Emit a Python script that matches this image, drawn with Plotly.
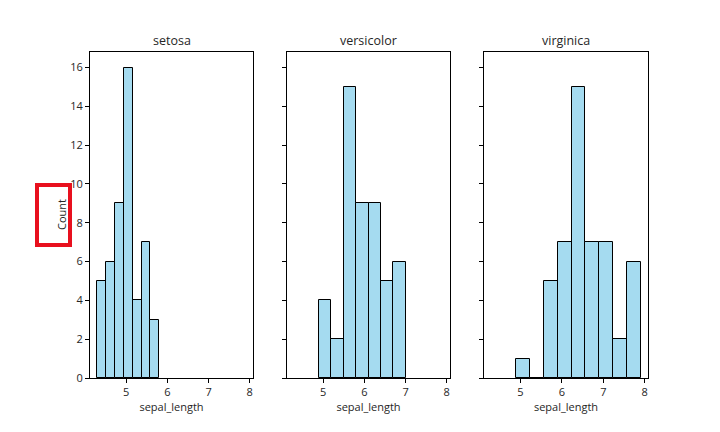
import plotly.graph_objects as go

species = ["setosa", "versicolor", "virginica"]
bin_start = [4.3, 4.9, 4.9]
bin_end = [5.8, 7.0, 7.9]
counts = [
    [5, 6, 9, 16, 4, 7, 3],
    [4, 2, 15, 9, 9, 5, 6],
    [1, 0, 5, 7, 15, 7, 7, 2, 6],
]
x_ticks = [5, 6, 7, 8]
y_ticks = [0, 2, 4, 6, 8, 10, 12, 14, 16]

W, H = 720, 432
L, R, T, B = 90, 72, 52, 54
pw, ph = W - L - R, H - T - B
px_dom = [(90, 253), (287, 450), (484, 648)]
FONT = "Open Sans"
TXT = "#262626"

fig = go.Figure()
for i, sp in enumerate(species):
    n = len(counts[i])
    w = (bin_end[i] - bin_start[i]) / n
    centers = [bin_start[i] + w * (k + 0.5) for k in range(n)]
    ax = "" if i == 0 else str(i + 1)
    fig.add_trace(go.Bar(
        x=centers, y=counts[i], width=[w] * n,
        marker=dict(color="rgb(165,219,240)", line=dict(color="black", width=1)),
        xaxis="x" + ax, yaxis="y" + ax, showlegend=False, name=sp,
    ))
    d0 = (px_dom[i][0] - L) / pw
    d1 = (px_dom[i][1] - L) / pw
    common = dict(showline=True, linecolor="black", linewidth=1, mirror=True,
                  ticks="outside", ticklen=4, tickcolor="black", showgrid=False,
                  zeroline=False, tickfont=dict(family=FONT, size=11, color=TXT))
    fig.layout["xaxis" + ax] = dict(
        domain=[d0, d1], range=[4.12, 8.08], tickvals=x_ticks, anchor="y" + ax,
        title=dict(text="sepal_length", font=dict(family=FONT, size=11, color=TXT), standoff=4),
        **common)
    fig.layout["yaxis" + ax] = dict(
        range=[0, 16.8], tickvals=y_ticks, anchor="x" + ax,
        showticklabels=(i == 0), **common)
    fig.add_annotation(x=(d0 + d1) / 2, y=1, xref="paper", yref="paper",
                       text=sp, showarrow=False, xanchor="center", yanchor="bottom", yshift=1,
                       font=dict(family=FONT, size=12.5, color=TXT))

fig.add_annotation(x=(61 - L) / pw, y=(H - B - 215) / ph, xref="paper", yref="paper",
                   text="Count", textangle=-90, showarrow=False,
                   xanchor="center", yanchor="middle",
                   font=dict(family=FONT, size=11, color=TXT))
fig.add_shape(type="rect", xref="paper", yref="paper",
              x0=(37 - L) / pw, x1=(70 - L) / pw,
              y0=(H - B - 245) / ph, y1=(H - B - 185) / ph,
              line=dict(color="#e8101e", width=4))

fig.update_layout(width=W, height=H, margin=dict(l=L, r=R, t=T, b=B),
                  plot_bgcolor="white", paper_bgcolor="white", bargap=0)
fig.write_html("out.html", config={"displayModeBar": False},
               post_script="document.body.style.margin='0';")
